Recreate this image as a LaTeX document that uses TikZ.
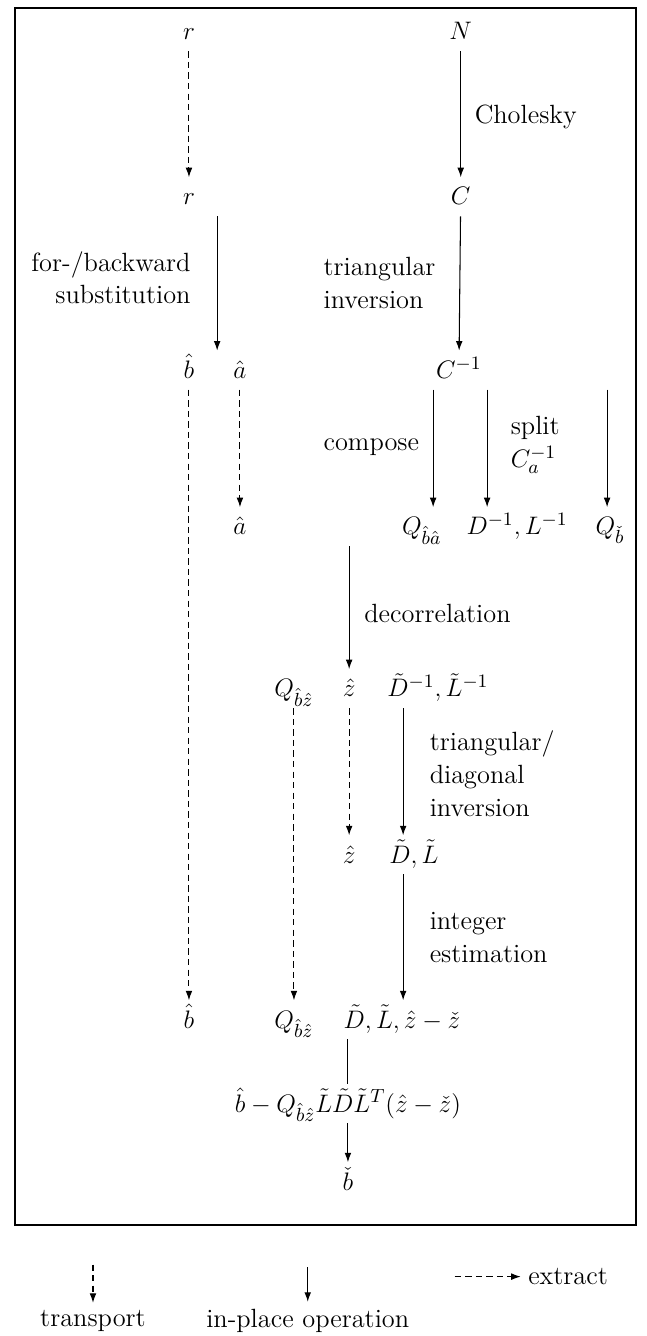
\documentclass[tikz,border=0pt]{standalone}
\usepackage{amsmath,amssymb}
\usepackage{tikz}
\usetikzlibrary{arrows.meta,positioning,calc}

\begin{document}
\begin{tikzpicture}[
    font=\fontsize{12.5}{15.5}\selectfont,
    >={Latex[length=4.5pt,width=3.2pt]},
    line width=0.5pt,
    var/.style={
        inner sep=3pt,
        text height=2.3ex,
        text depth=0.5ex
    },
    note/.style={
        align=left,
        inner sep=1pt
    },
    move/.style={->},
    transp/.style={->, dash pattern=on 3pt off 2pt},
    frame/.style={line width=0.9pt}
]

\useasboundingbox (0,0) rectangle (10.78,-22.27);

% =========================================================
% outer frame
% =========================================================
\draw[frame] (0.25,-0.13) rectangle (10.6,-20.42);

% =========================================================
% quantities
% =========================================================
\node[var] (r1)    at (3.15,-0.53)  {$r$};
\node[var] (N)     at (7.68,-0.53)  {$N$};
\node[var] (r2)    at (3.15,-3.28)  {$r$};
\node[var] (C)     at (7.68,-3.28)  {$C$};

\node[var] (bhat1) at (3.15,-6.17)  {$\hat{b}$};
\node[var] (ahat1) at (4.00,-6.17)  {$\hat{a}$};
\node[var] (Cinv)  at (7.65,-6.17)  {$C^{-1}$};

\node[var] (ahat2) at (4.00,-8.78)  {$\hat{a}$};
\node[var] (Qba)   at (7.03,-8.78)  {$Q_{\hat{b}\hat{a}}$};
\node[var] (DL)    at (8.62,-8.78)  {$D^{-1},L^{-1}$};
\node[var] (Qbc)   at (10.17,-8.78) {$Q_{\check{b}}$};

\node[var] (Qbz1)  at (4.90,-11.48) {$Q_{\hat{b}\hat{z}}$};
\node[var] (zhat1) at (5.82,-11.48) {$\hat{z}$};
\node[var] (DLt1)  at (7.30,-11.48) {$\tilde{D}^{-1},\tilde{L}^{-1}$};

\node[var] (zhat2) at (5.82,-14.25) {$\hat{z}$};
\node[var] (DLt2)  at (6.90,-14.25) {$\tilde{D},\tilde{L}$};

\node[var] (bhat2) at (3.15,-17.00) {$\hat{b}$};
\node[var] (Qbz2)  at (4.90,-17.00) {$Q_{\hat{b}\hat{z}}$};
\node[var] (DLz)   at (6.70,-17.00) {$\tilde{D},\tilde{L},\hat{z}-\check{z}$};

\node[var] (upd)   at (5.80,-18.40) {$\hat{b}-Q_{\hat{b}\hat{z}}\tilde{L}\tilde{D}\tilde{L}^T(\hat{z}-\check{z})$};
\node[var] (bchk)  at (5.80,-19.70) {$\check{b}$};

% columns of the arrows that do not sit under a node centre
\coordinate (subx) at (3.62,0);
\coordinate (cmpx) at (7.22,0);
\coordinate (splx) at (8.12,0);
\coordinate (extx) at (10.12,0);
\coordinate (trix) at (6.72,0);

% =========================================================
% operations
% =========================================================
\draw[transp] (r1) -- (r2);
\draw[move] (N) -- (C);

\draw[move] (r2.south -| subx) -- (subx |- bhat1.north);
\draw[move] (C) -- (Cinv);

\draw[transp] (bhat1) -- (bhat2);
\draw[transp] (ahat1) -- (ahat2);

\draw[move] (Cinv.south -| cmpx) -- (cmpx |- Qba.north);
\draw[move] (Cinv.south -| splx) -- (splx |- DL.north);
\draw[move] (Cinv.south -| extx) -- (extx |- Qbc.north);

\draw[move] (Qba.south -| zhat1) -- (zhat1);

\draw[transp] (Qbz1) -- (Qbz2);
\draw[transp] (zhat1) -- (zhat2);
\draw[move] (DLt1.south -| trix) -- (trix |- DLt2.north);
\draw[move] (DLt2.south -| trix) -- (trix |- DLz.north);

\draw (DLz.south -| upd) -- (upd);
\draw[move] (upd) -- (bchk);

% annotations
\node[note, anchor=west] (chol) at (7.87,-1.95) {Cholesky};
\node[note, anchor=east, align=right] (fbs) at (3.22,-4.63) {for-/backward\\substitution};
\node[note, anchor=west] (tinv) at (5.35,-4.72) {triangular\\inversion};
\node[note, anchor=east] (comp) at (7.03,-7.45) {compose};
\node[note, anchor=west] (splt) at (8.47,-7.42) {split\\$C_a^{-1}$};
\node[note, anchor=west] (decor) at (6.03,-10.22) {decorrelation};
\node[note, anchor=west] (tdinv) at (7.12,-12.90) {triangular/\\diagonal\\inversion};
\node[note, anchor=west] (intest) at (7.12,-15.63) {integer\\estimation};

% =========================================================
% legend
% =========================================================
\node (lgtr) at (1.55,-22.02) {transport};
\node (lgip) at (5.13,-22.02) {in-place operation};
\node[anchor=west] (lgex) at (8.68,-21.28) {extract};

\coordinate (lgtrtop) at (1.55,-21.08);
\coordinate (lgiptop) at (5.13,-21.12);
\coordinate (lgexst) at (7.58,-21.28);

\draw[transp] (lgtrtop) -- (lgtr.north);
\draw[move] (lgiptop) -- (lgip.north);
\draw[transp] (lgexst) -- (lgex.west);

\end{tikzpicture}
\end{document}
